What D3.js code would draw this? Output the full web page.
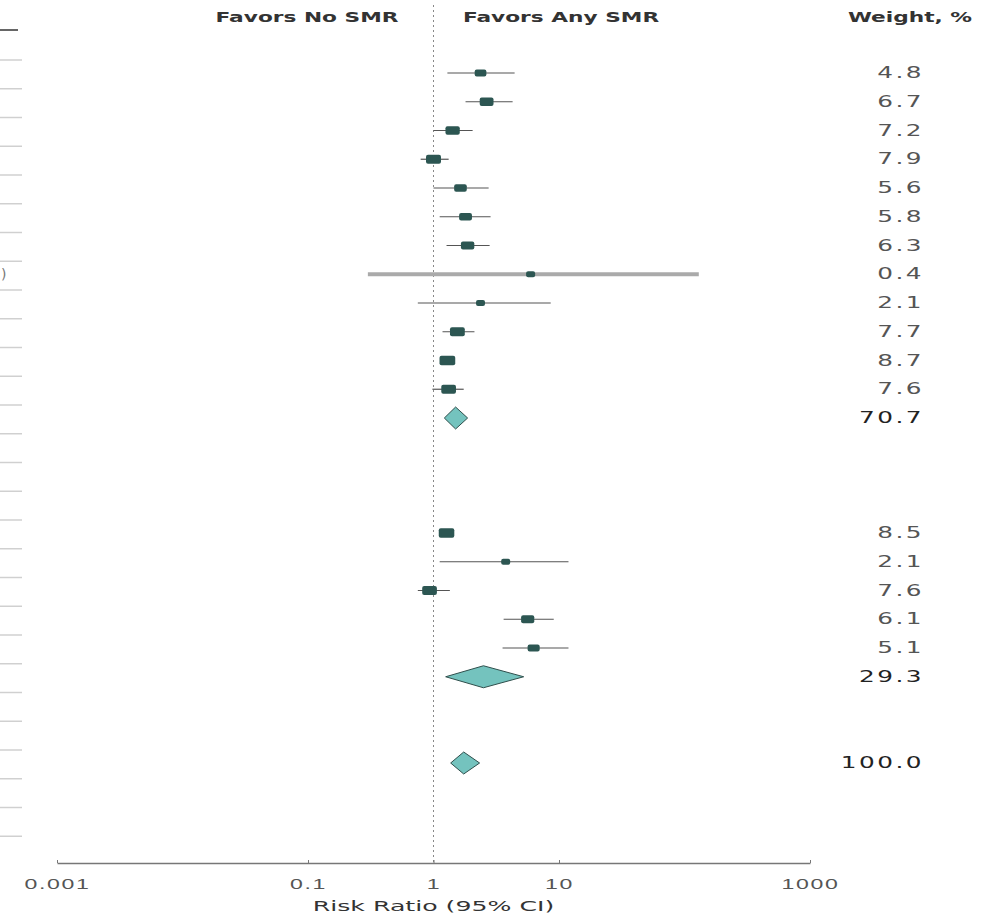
<!DOCTYPE html>
<html>
<head>
<meta charset="utf-8">
<script src="https://cdn.jsdelivr.net/npm/d3@7"></script>
<style>
  body { margin: 0; background: #fff; }
  svg { display: block; font-family: "DejaVu Sans", sans-serif; }
</style>
</head>
<body>
<svg id="forest" width="997" height="917"></svg>
<script>
// study rows (slot = row position in the table)
const studySlot = [0, 1, 2, 3, 4, 5, 6, 7, 8, 9, 10, 11, 16, 17, 18, 19, 20];
const studyRR = [2.37, 2.65, 1.42, 1.0, 1.64, 1.8, 1.87, 5.94, 2.37, 1.55, 1.29, 1.32, 1.27, 3.76, 0.93, 5.63, 6.28];
const studyLo = [1.29, 1.8, 1.0, 0.79, 1.0, 1.12, 1.27, 0.3, 0.75, 1.18, 1.13, 0.98, 1.12, 1.12, 0.75, 3.62, 3.55];
const studyHi = [4.43, 4.27, 2.05, 1.32, 2.75, 2.85, 2.8, 130, 8.59, 2.12, 1.47, 1.74, 1.42, 11.9, 1.35, 9.08, 11.9];
const studyWeight = ["4.8", "6.7", "7.2", "7.9", "5.6", "5.8", "6.3", "0.4", "2.1", "7.7", "8.7", "7.6", "8.5", "2.1", "7.6", "6.1", "5.1"];

// pooled rows: two subtotals and the overall estimate
const pooledSlot = [12, 21, 24];
const pooledRR = [1.5, 2.5, 1.74];
const pooledLo = [1.22, 1.25, 1.37];
const pooledHi = [1.87, 5.23, 2.33];
const pooledWeight = ["70.7", "29.3", "100.0"];

const tickValues = [0.001, 0.1, 1, 10, 1000];
const tickLabels = ["0.001", "0.1", "1", "10", "1000"];
const headers = ["Favors No SMR", "Favors Any SMR", "Weight, %"];
const axisTitle = "Risk Ratio (95% CI)";

const svg = d3.select("svg#forest");
const box_color = "#2c5652";
const diamond_color = "#74c3be";

const x = d3.scaleLog([0.001, 1000], [57, 810]);
const y = d3.scaleLinear([0, 24], [73, 763]);
const axis_y = 863;
const weight_x = 924;

const studies = studySlot.map((s, i) => ({
  slot: s, rr: studyRR[i], lo: studyLo[i], hi: studyHi[i], w: studyWeight[i]
}));
const pooled = pooledSlot.map((s, i) => ({
  slot: s, rr: pooledRR[i], lo: pooledLo[i], hi: pooledHi[i], w: pooledWeight[i]
}));

// the picture is stretched sideways, so text gets a horizontal scale
function stretched_text(g, tx, ty, txt, anchor, sx) {
  return g.append("text")
    .attr("transform", `translate(${tx},${ty}) scale(${sx},1)`)
    .attr("text-anchor", anchor)
    .text(txt);
}

// cut-off table on the left edge
svg.append("line")
  .attr("x1", 0).attr("x2", 18)
  .attr("y1", 30).attr("y2", 30)
  .attr("stroke", "#666").attr("stroke-width", 2);
svg.selectAll("line.stub")
  .data(d3.range(28))
  .join("line")
  .attr("class", "stub")
  .attr("x1", 0).attr("x2", 22)
  .attr("y1", d => y(d) - 13)
  .attr("y2", d => y(d) - 13)
  .attr("stroke", "#d0d0d0")
  .attr("stroke-width", 1.5);
svg.append("text")
  .attr("x", 1).attr("y", y(7) + 5)
  .attr("font-size", 14)
  .attr("fill", "#777")
  .text(")");

// null line
svg.append("line")
  .attr("x1", x(1)).attr("x2", x(1))
  .attr("y1", 5).attr("y2", axis_y)
  .attr("stroke", "#888")
  .attr("stroke-dasharray", "2,3");

// headers
const head = svg.append("g")
  .attr("font-size", 14)
  .attr("font-weight", "bold")
  .attr("fill", "#333");
stretched_text(head, 307, 22, headers[0], "middle", 1.55);
stretched_text(head, 561, 22, headers[1], "middle", 1.55);
stretched_text(head, 910, 22, headers[2], "middle", 1.55);

// confidence intervals
svg.selectAll("line.ci")
  .data(studies)
  .join("line")
  .attr("class", "ci")
  .attr("x1", d => x(d.lo))
  .attr("x2", d => x(d.hi))
  .attr("y1", d => y(d.slot))
  .attr("y2", d => y(d.slot))
  .attr("stroke", d => d.hi / d.lo > 100 ? "#aaa" : "#555")
  .attr("stroke-width", d => d.hi / d.lo > 100 ? 4 : 1.2);

// study boxes, sized by weight
const box_w = d3.scaleSqrt([0, 9], [0, 16]);
svg.selectAll("rect.box")
  .data(studies)
  .join("rect")
  .attr("class", "box")
  .attr("x", d => x(d.rr) - Math.max(9, box_w(+d.w)) / 2)
  .attr("y", d => y(d.slot) - Math.max(6, box_w(+d.w) * 0.6) / 2)
  .attr("width", d => Math.max(9, box_w(+d.w)))
  .attr("height", d => Math.max(6, box_w(+d.w) * 0.6))
  .attr("rx", 2)
  .attr("fill", box_color);

// pooled diamonds
const dh = 11;
svg.selectAll("path.diamond")
  .data(pooled)
  .join("path")
  .attr("class", "diamond")
  .attr("d", d => {
    const cy = y(d.slot);
    return `M${x(d.lo)},${cy}L${x(d.rr)},${cy - dh}L${x(d.hi)},${cy}L${x(d.rr)},${cy + dh}Z`;
  })
  .attr("fill", diamond_color)
  .attr("stroke", "#2f4f4c")
  .attr("stroke-width", 1);

// weights
const weights = svg.append("g")
  .attr("font-size", 15)
  .attr("letter-spacing", 1.5)
  .attr("fill", "#555");
studies.concat(pooled).forEach(d => {
  stretched_text(weights, weight_x, y(d.slot) + 5, d.w, "end", 1.65)
    .attr("fill", pooledSlot.includes(d.slot) ? "#222" : "#555");
});

// x axis
const axis = svg.append("g")
  .attr("transform", `translate(0,${axis_y})`)
  .call(d3.axisBottom(x)
    .tickValues(tickValues)
    .tickFormat((d, i) => tickLabels[i])
    .tickSizeInner(-3)
    .tickSizeOuter(0)
    .tickPadding(16));
axis.select(".domain").attr("stroke", "#777").attr("stroke-width", 1.5);
axis.selectAll(".tick line").attr("stroke", "#777");
// swap the axis labels for stretched ones, centred on the ticks
axis.selectAll(".tick").each(function (d, i) {
  const t = d3.select(this);
  const lbl = t.select("text");
  const yy = +lbl.attr("y");
  lbl.remove();
  stretched_text(t, 0, yy + 10, tickLabels[i], "middle", 1.65)
    .attr("font-size", 14)
    .attr("letter-spacing", 1)
    .attr("fill", "#555");
});

stretched_text(svg.append("g").attr("font-size", 14).attr("fill", "#333"),
  x(1), 911, axisTitle, "middle", 1.8);
</script>
</body>
</html>
